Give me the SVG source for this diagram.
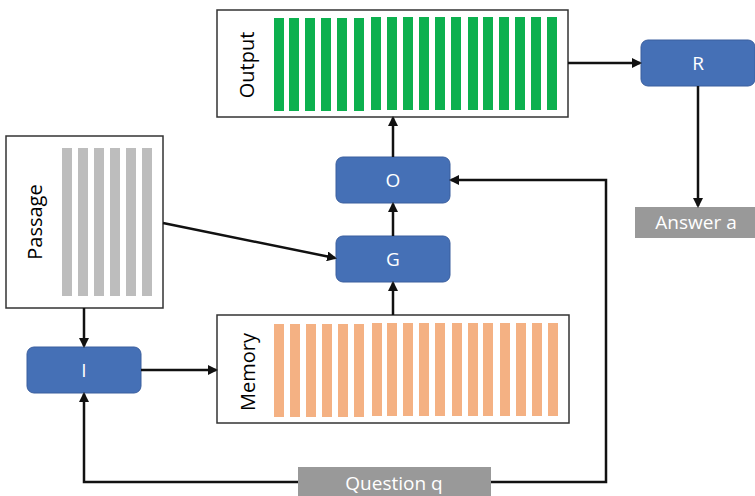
<svg xmlns="http://www.w3.org/2000/svg" width="755" height="496" viewBox="0 0 755 496">
<defs>
<style>
.box{fill:#fff;stroke:#333;stroke-width:1.5}
.blue{fill:#4570B6;stroke:#3A5E9E;stroke-width:1}
.grey{fill:#999999}
.lbl{font-family:"Open Sans","Noto Sans",sans-serif;font-size:20px;fill:#000;text-anchor:middle;dominant-baseline:central}
.wl{font-family:"Open Sans","Noto Sans",sans-serif;font-size:19px;fill:#fff;text-anchor:middle;dominant-baseline:central}
.g{fill:#0CB04E}
.o{fill:#F4B183}
.p{fill:#BDBDBD}
.c{fill:none;stroke:#111;stroke-width:2.5}
</style>
<marker id="ah" markerWidth="10" markerHeight="10" refX="8" refY="5" orient="auto" markerUnits="userSpaceOnUse">
<path d="M0,0 L10,5 L0,10 Z" fill="#111"/>
</marker>
</defs>

<g id="output">
<rect class="box" x="217" y="10" width="351" height="107"/>
<g class="g">
<rect x="274" y="18" width="10" height="93"/><rect x="289" y="18" width="10" height="93"/><rect x="305" y="18" width="10" height="93"/><rect x="321" y="18" width="10" height="93"/><rect x="337" y="18" width="10" height="93"/><rect x="354" y="18" width="10" height="93"/>
<rect x="371" y="17" width="10" height="93"/><rect x="387" y="17" width="10" height="93"/><rect x="403" y="17" width="10" height="93"/><rect x="419" y="17" width="10" height="93"/><rect x="435" y="17" width="10" height="93"/><rect x="451" y="17" width="10" height="93"/><rect x="468" y="17" width="10" height="93"/><rect x="483" y="17" width="10" height="93"/><rect x="499" y="17" width="10" height="93"/><rect x="515" y="17" width="10" height="93"/><rect x="531" y="17" width="10" height="93"/><rect x="547" y="17" width="10" height="93"/>
</g>
<text class="lbl" transform="translate(246,65) rotate(-90)">Output</text>
</g>

<g id="passage">
<rect class="box" x="6" y="136" width="157" height="172"/>
<g class="p">
<rect x="62" y="148" width="10" height="148"/><rect x="78" y="148" width="10" height="148"/><rect x="94" y="148" width="10" height="148"/><rect x="110" y="148" width="10" height="148"/><rect x="126" y="148" width="10" height="148"/><rect x="142" y="148" width="10" height="148"/>
</g>
<text class="lbl" transform="translate(34,222) rotate(-90)">Passage</text>
</g>

<g id="memory">
<rect class="box" x="217" y="315" width="352" height="108"/>
<g class="o">
<rect x="274" y="324" width="10" height="93"/><rect x="290" y="324" width="10" height="93"/><rect x="306" y="324" width="10" height="93"/><rect x="322" y="324" width="10" height="93"/><rect x="338" y="324" width="10" height="93"/><rect x="354" y="324" width="10" height="93"/>
<rect x="372" y="323" width="10" height="93"/><rect x="387" y="323" width="10" height="93"/><rect x="403" y="323" width="10" height="93"/><rect x="419" y="323" width="10" height="93"/><rect x="435" y="323" width="10" height="93"/><rect x="452" y="323" width="10" height="93"/><rect x="468" y="323" width="10" height="93"/><rect x="483" y="323" width="10" height="93"/><rect x="500" y="323" width="10" height="93"/><rect x="516" y="323" width="10" height="93"/><rect x="532" y="323" width="10" height="93"/><rect x="548" y="323" width="10" height="93"/>
</g>
<text class="lbl" transform="translate(247,372) rotate(-90)">Memory</text>
</g>

<g id="nodeI">
<rect class="blue" x="27" y="347" width="114" height="46" rx="7"/>
<text class="wl" x="84" y="370">I</text>
</g>
<g id="nodeG">
<rect class="blue" x="336" y="236" width="114" height="46" rx="7"/>
<text class="wl" x="393" y="259">G</text>
</g>
<g id="nodeO">
<rect class="blue" x="336" y="157" width="114" height="46" rx="7"/>
<text class="wl" x="393" y="180">O</text>
</g>
<g id="nodeR">
<rect class="blue" x="641" y="40" width="114" height="46" rx="7"/>
<text class="wl" x="698" y="63">R</text>
</g>
<g id="answer">
<rect class="grey" x="635" y="207" width="120" height="31"/>
<text class="wl" x="696" y="222">Answer a</text>
</g>
<g id="question">
<rect class="grey" x="298" y="467" width="193" height="29"/>
<text class="wl" x="394" y="483">Question q</text>
</g>

<g id="connectors">
<line class="c" x1="568" y1="63" x2="640" y2="63" marker-end="url(#ah)"/>
<line class="c" x1="698" y1="86" x2="698" y2="206" marker-end="url(#ah)"/>
<line class="c" x1="393" y1="157" x2="393" y2="118" marker-end="url(#ah)"/>
<line class="c" x1="393" y1="236" x2="393" y2="204" marker-end="url(#ah)"/>
<line class="c" x1="393" y1="315" x2="393" y2="283" marker-end="url(#ah)"/>
<line class="c" x1="163" y1="223" x2="335" y2="258" marker-end="url(#ah)"/>
<line class="c" x1="84" y1="308" x2="84" y2="346" marker-end="url(#ah)"/>
<line class="c" x1="141" y1="370" x2="216" y2="370" marker-end="url(#ah)"/>
<polyline class="c" points="298,482 84,482 84,394" marker-end="url(#ah)"/>
<polyline class="c" points="491,482 606,482 606,180 451,180" marker-end="url(#ah)"/>
</g>
</svg>
